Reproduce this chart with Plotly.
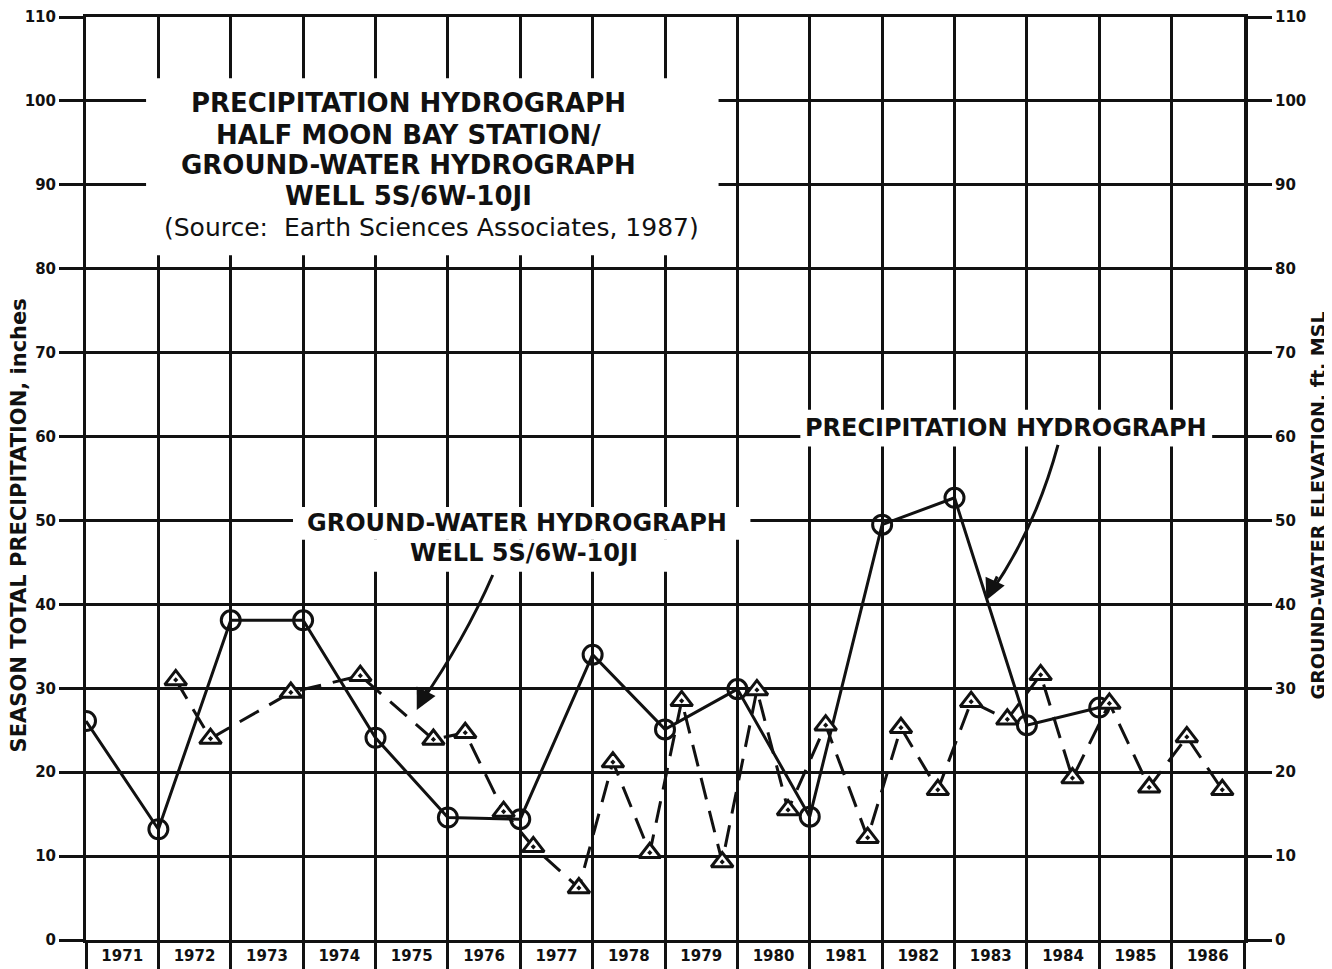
import plotly.graph_objects as go

# ---------------- data ----------------
years = [str(y) for y in range(1971, 1987)]
year_mid = [y + 0.5 for y in range(1971, 1987)]
year_bounds = list(range(1971, 1988))

# Season total precipitation (inches), plotted at season boundaries
precip_x = [1971, 1972, 1973, 1974, 1975, 1976, 1977, 1978, 1979, 1980, 1981, 1982, 1983, 1984, 1985]
precip_y = [26.1, 13.2, 38.1, 38.1, 24.1, 14.6, 14.4, 34.0, 25.1, 29.9, 14.7, 49.5, 52.7, 25.6, 27.7]

# Ground-water elevation (ft MSL), well 5S/6W-10J1
gw_x = [1972.24, 1972.72, 1973.83, 1974.79, 1975.80, 1976.24, 1976.77, 1977.18, 1977.81,
        1978.28, 1978.79, 1979.23, 1979.79, 1980.27, 1980.70, 1981.22, 1981.80, 1982.26,
        1982.77, 1983.23, 1983.73, 1984.19, 1984.63, 1985.14, 1985.69, 1986.21, 1986.70]
gw_y = [31.0, 24.0, 29.5, 31.5, 23.9, 24.7, 15.3, 11.1, 6.2,
        21.2, 10.4, 28.5, 9.3, 29.8, 15.5, 25.6, 12.2, 25.3,
        17.9, 28.4, 26.3, 31.6, 19.3, 28.2, 18.2, 24.2, 17.9]

y_ticks = list(range(0, 111, 10))

title_lines = ["PRECIPITATION HYDROGRAPH", "HALF MOON BAY STATION/",
               "GROUND-WATER HYDROGRAPH", "WELL 5S/6W-10JI"]
source_line = "(Source:  Earth Sciences Associates, 1987)"

FONT = "DejaVu Sans"
BLACK = "#111111"

fig = go.Figure()

fig.add_trace(go.Scatter(
    x=precip_x, y=precip_y, mode="lines+markers", name="Precipitation",
    line=dict(color=BLACK, width=3),
    marker=dict(symbol="circle-open", size=19, color=BLACK, line=dict(width=3)),
    showlegend=False, yaxis="y"))

fig.add_trace(go.Scatter(
    x=gw_x, y=gw_y, mode="lines+markers", name="Ground water",
    line=dict(color=BLACK, width=3, dash="22px,12px"),
    marker=dict(symbol="triangle-up-dot", size=19, color="white",
                line=dict(width=3, color=BLACK)),
    showlegend=False, yaxis="y2"))

# white boxes that interrupt the grid behind the labels
boxes = [
    (1971.83, 1979.74, 81.6, 102.7),   # title block
    (1973.86, 1980.18, 47.7, 51.6),    # ground-water label line 1
    (1974.10, 1979.90, 43.9, 47.7),    # ground-water label line 2
    (1980.87, 1986.56, 58.8, 63.2),    # precipitation label
]
shapes = []
for x0, x1, y0, y1 in boxes:
    shapes.append(dict(type="rect", xref="x", yref="y", x0=x0, x1=x1, y0=y0, y1=y1,
                       fillcolor="white", line=dict(width=0), layer="above"))

# curved leader lines
shapes.append(dict(type="path", xref="x", yref="y", layer="above",
                   path="M 1976.62,43.5 Q 1976.23,35.8 1975.62,28.2",
                   line=dict(color=BLACK, width=3)))
shapes.append(dict(type="path", xref="x", yref="y", layer="above",
                   path="M 1984.43,59.0 Q 1984.11,48.9 1983.50,41.4",
                   line=dict(color=BLACK, width=3)))

annotations = []
ty = [99.8, 95.9, 92.4, 88.7]
for t, yv in zip(title_lines, ty):
    annotations.append(dict(x=1975.45, y=yv, xref="x", yref="y", text=t, showarrow=False,
                            font=dict(family=FONT, size=26, color=BLACK, weight="bold"),
                            xanchor="center", yanchor="middle"))
annotations.append(dict(x=1975.78, y=84.9, xref="x", yref="y", text=source_line, showarrow=False,
                        font=dict(family=FONT, size=25, color=BLACK),
                        xanchor="center", yanchor="middle"))
annotations.append(dict(x=1976.96, y=49.7, xref="x", yref="y", text="GROUND-WATER HYDROGRAPH",
                        showarrow=False, font=dict(family=FONT, size=24, color=BLACK, weight="bold"),
                        xanchor="center", yanchor="middle"))
annotations.append(dict(x=1977.05, y=46.1, xref="x", yref="y", text="WELL 5S/6W-10JI",
                        showarrow=False, font=dict(family=FONT, size=24, color=BLACK, weight="bold"),
                        xanchor="center", yanchor="middle"))
annotations.append(dict(x=1983.71, y=61.0, xref="x", yref="y", text="PRECIPITATION HYDROGRAPH",
                        showarrow=False, font=dict(family=FONT, size=24, color=BLACK, weight="bold"),
                        xanchor="center", yanchor="middle"))
# arrowheads
annotations.append(dict(x=1975.57, y=27.4, xref="x", yref="y", ax=1975.72, ay=30.0,
                        axref="x", ayref="y", text="", showarrow=True, arrowhead=2,
                        arrowsize=1.4, arrowwidth=3, arrowcolor=BLACK))
annotations.append(dict(x=1983.44, y=40.5, xref="x", yref="y", ax=1983.60, ay=43.5,
                        axref="x", ayref="y", text="", showarrow=True, arrowhead=2,
                        arrowsize=1.4, arrowwidth=3, arrowcolor=BLACK))
# axis titles
annotations.append(dict(x=-0.058, y=0.449, xref="paper", yref="paper",
                        text="SEASON TOTAL PRECIPITATION, inches", textangle=-90, showarrow=False,
                        font=dict(family=FONT, size=21, color=BLACK, weight="bold"),
                        xanchor="center", yanchor="middle"))
annotations.append(dict(x=1.064, y=0.471, xref="paper", yref="paper",
                        text="GROUND-WATER ELEVATION, ft. MSL", textangle=-90, showarrow=False,
                        font=dict(family=FONT, size=19, color=BLACK, weight="bold"),
                        xanchor="center", yanchor="middle"))

# the page body adds an 8px offset; size the figure so the plot lands where the reference has it
fig.update_layout(
    width=1324, height=961,
    margin=dict(l=78, r=88, t=9, b=29, autoexpand=False),
    paper_bgcolor="white", plot_bgcolor="white",
    font=dict(family=FONT, color=BLACK),
    xaxis=dict(range=[1971, 1987], tickmode="array", tickvals=year_mid, ticktext=years,
               ticks="", showgrid=False, zeroline=False, automargin=False,
               showline=True, linewidth=3, linecolor=BLACK, mirror=True,
               tickfont=dict(size=15, weight="bold", color=BLACK),
               minor=dict(tickmode="array", tickvals=year_bounds, ticks="outside", ticklen=28,
                          tickwidth=3, tickcolor=BLACK, showgrid=True,
                          gridcolor=BLACK, gridwidth=3)),
    yaxis=dict(range=[0, 110], tickmode="array", tickvals=y_ticks, ticks="outside",
               ticklen=24, tickwidth=3, tickcolor=BLACK, showgrid=True, gridcolor=BLACK,
               gridwidth=3, zeroline=False, showline=True, linewidth=3, linecolor=BLACK,
               automargin=False, tickfont=dict(size=15, weight="bold", color=BLACK)),
    yaxis2=dict(range=[0, 110], overlaying="y", side="right", tickmode="array",
                tickvals=y_ticks, ticks="outside", ticklen=24, tickwidth=3, tickcolor=BLACK,
                showgrid=False, zeroline=False, showline=True, linewidth=4, linecolor=BLACK,
                automargin=False, tickfont=dict(size=15, weight="bold", color=BLACK)),
    shapes=shapes, annotations=annotations, showlegend=False,
)

fig.write_html("out.html")
